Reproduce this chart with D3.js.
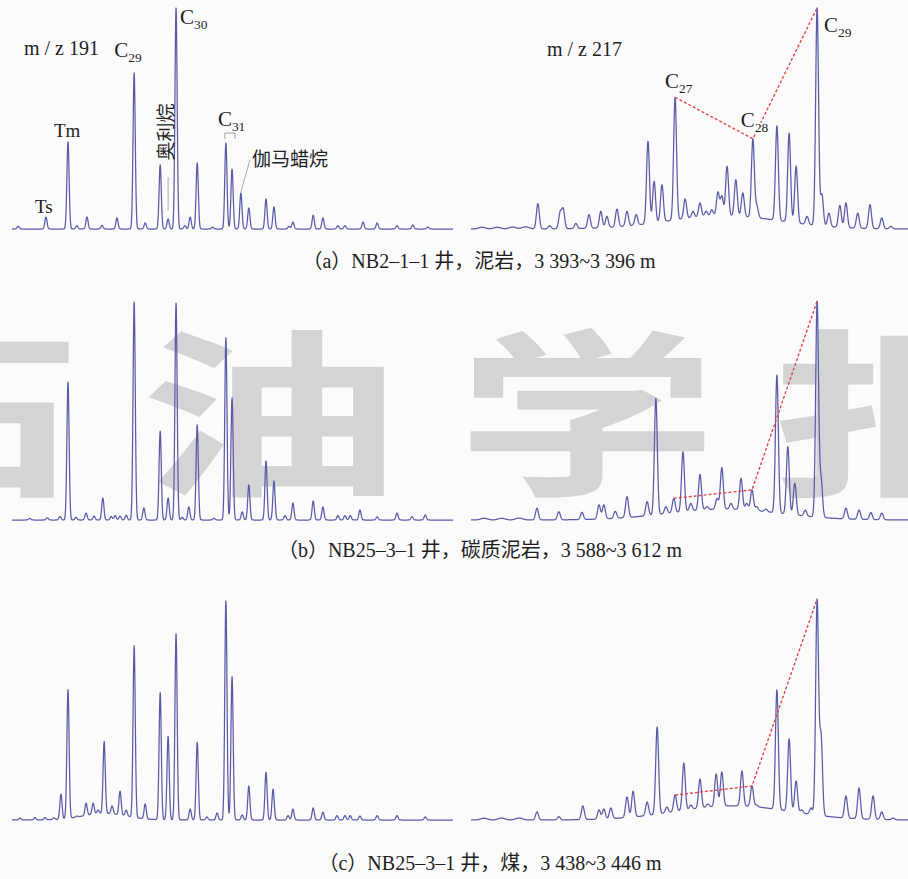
<!DOCTYPE html>
<html>
<head>
<meta charset="utf-8">
<script src="https://cdn.jsdelivr.net/npm/d3@7"></script>
<style>
  body { margin: 0; background: #fbfbfc; }
  svg { display: block; }
  .serif { font-family: "Liberation Serif", "DejaVu Serif", "Noto Sans CJK SC", serif; }
  .cjk { font-family: "Noto Sans CJK SC", sans-serif; }
</style>
</head>
<body>
<svg id="chart" width="908" height="879"></svg>
<script>
// ---- Peak tables: [relative retention (0-100), apex intensity (% of base peak), optional width] ----

// m/z 191 terpanes
const hopaneA = [
  [1.4,1.2],[7.7,5.4],[12.7,39.4],[14.7,1.5],[17.0,5.4],[20.4,1.6],[23.8,5.0],[27.7,70.6],
  [30.2,2.7],[33.6,29.0],[35.4,4.5],[37.2,100],[39.2,1.5],[40.4,5.4],[42.0,29.9],[45.5,0.8],
  [48.5,38.9],[49.9,27.1],[51.9,16.3],[53.7,9.5],[57.6,13.6],[59.4,10.0],[62.8,1.2],[63.7,3.2],
  [68.3,6.3],[70.5,5.0],[73.9,1.5],[75.5,1.5],[79.6,3.2],[82.8,2.7],[87.3,1.5],[90.9,1.8],[94.3,0.9]
];
const hopaneB = [
  [4.0,0.8],[8.0,1.0],[10.9,1.6],[12.7,63.3],[14.5,1.2],[16.8,3.2],[18.6,1.8],[20.6,10.1],[22.5,1.6],
  [23.4,2.0],[24.5,1.8],[25.9,2.2],[27.7,100],[29.9,5.5],[33.6,40.8],[35.4,10.1],[37.2,99.5],
  [38.6,1.2],[40.1,6.0],[42.0,43.6],[45.8,0.8],[48.5,83.5],[49.9,56.0],[52.2,3.7],[53.7,16.1],
  [57.6,27.1],[59.4,17.9],[61.9,2.0],[63.7,7.8],[68.3,8.7],[70.5,6.0],[73.9,2.0],[75.5,2.0],
  [76.7,2.0],[78.9,4.6],[82.8,1.4],[87.3,3.2],[90.7,1.5],[93.7,2.3]
];
const hopaneC = [
  [1.8,0.9],[5.2,1.1],[7.5,1.1],[9.5,1.0],[11.1,11.8],[12.7,59.5],[14.7,1.8],[16.8,7.7],[18.4,7.7],
  [19.5,4.5],[20.9,35.9],[22.7,6.4],[24.5,13.2],[25.9,4.5],[27.7,79.5],[30.2,7.3],[33.6,58.2],
  [35.4,38.2],[37.2,85.0],[40.4,5.0],[42.0,35.5],[44.2,1.4],[46.5,3.2],[48.5,100],[49.9,65.5],
  [52.2,2.3],[53.7,15.5],[57.6,21.8],[59.2,14.1],[62.6,2.0],[63.7,5.0],[68.3,5.5],[70.5,3.6],
  [73.7,2.0],[75.5,2.0],[76.7,2.0],[78.9,1.8],[82.8,2.0],[87.3,2.0],[93.7,1.4]
];

// m/z 217 steranes
const steraneA = [
  [2.5,0.8,0.8],[6.0,0.8,0.8],[9.5,0.9,0.8],[12.5,1.0,0.8],[15.3,11.5],[18.0,1.5],[20.4,7.2],
  [21.1,8.7],[24.0,2.5],[27.0,6.5],[29.7,8.0],[31.1,5.7],[33.4,9.0],[35.7,8.0],[37.8,6.5],
  [40.5,39.7],[41.9,21.6],[43.7,20.0],[46.7,59.6],[49.0,13.6],[50.8,8.0],[52.4,11.8],[53.8,8.0],
  [55.1,8.7],[56.5,16.6],[57.4,14.8],[58.6,28.4],[60.6,22.3],[62.2,16.3],[64.5,40.7],[65.4,10.3],
  [70.0,46.7],[72.8,43.4],[74.4,28.4],[76.9,5.7],[79.2,100],[80.3,15.5],[81.9,7.2],[84.4,10.7],
  [85.8,11.8],[88.5,7.2],[91.3,11.0],[94.0,5.0],[96.1,1.2]
];
const steraneB = [
  [3.0,0.8,0.8],[7.0,0.8,0.8],[11.0,0.9,0.8],[15.1,5.4],[20.1,3.8],[25.4,3.5],[29.3,6.9],[30.4,6.9],
  [33.0,4.0],[35.7,10.7],[40.3,8.4],[42.3,55.8],[44.6,6.1],[46.4,9.9],[48.5,31.3],[50.3,7.6],
  [52.4,20.9],[54.0,6.1],[56.3,9.9],[57.4,24.0],[59.5,7.6],[61.8,19.1],[63.1,7.6],[64.3,13.8],
  [65.4,6.1],[67.5,5.0],[70.0,66.5],[72.5,33.6],[74.1,16.8],[76.5,4.5],[79.2,100],[80.1,18.3],
  [85.8,5.4],[88.8,4.6],[91.5,3.4],[94.0,3.1]
];
const steraneC = [
  [3.0,0.8,0.8],[7.0,0.9,0.8],[11.0,0.9,0.8],[15.1,3.7],[20.1,1.5],[25.6,6.4],[29.3,4.6],[30.4,5.0],
  [32.0,5.5],[35.7,10.5],[37.1,13.2],[40.3,8.2],[42.6,42.5],[44.8,5.9],[46.7,11.4],[48.7,26.0],
  [50.3,6.8],[52.4,18.7],[54.2,7.3],[56.1,21.0],[57.4,21.9],[59.0,6.4],[62.0,22.4],[64.3,15.5],
  [65.4,6.8],[66.6,5.0],[68.2,4.6],[70.0,59.4],[72.8,37.0],[74.4,17.8],[75.7,4.6],[77.8,5.5],
  [79.2,100],[80.1,37.9],[85.8,11.0],[88.8,14.6],[92.0,11.0],[94.0,3.7],[96.6,0.9]
];

// unresolved hump under each trace: [height, centre, spread]
const humpHopane = [null, null, [3, 21, 5]];
const humpSterane = [[6, 58, 13], [5, 58, 13], [6.5, 60, 13]];

// C27 / C28 / C29 regular sterane retention per sample
const steraneMarkers = [[46.7, 64.5, 79.2], [46.4, 64.3, 79.2], [46.7, 64.3, 79.2]];
const steraneMarkerNames = ["27", "28", "29"];

// named terpane peaks in sample (a)
const hopaneLabelNames = ["Ts", "Tm", "C29", "C30", "C31"];
const hopaneLabelRt = [7.7, 12.7, 27.7, 37.2, 48.5];
const oleananeRt = 35.4;
const gammaceraneRt = 51.9;

const captions = [
  "（a）NB2–1–1 井，泥岩，3 393~3 396 m",
  "（b）NB25–3–1 井，碳质泥岩，3 588~3 612 m",
  "（c）NB25–3–1 井，煤，3 438~3 446 m"
];
const watermark = "石油学报";

// ---- layout ----
const W = 908, H = 879;
const colRange = [[12, 453], [471, 908]];
const rowRange = [[229, 8], [520, 302], [820, 601]];
const captionPos = [[479, 268], [480, 557], [490, 870]];
const traceColor = "#5a5aa8";
const ink = "#1e1e1e";

const svg = d3.select("#chart");
svg.append("rect").attr("width", W).attr("height", H).attr("fill", "#fbfbfc");

// watermark behind the traces
const wm = svg.append("g")
  .attr("class", "cjk")
  .attr("fill", "#d4d4d4")
  .attr("font-weight", 700)
  .attr("font-size", 180);
Array.from(watermark).forEach((ch, i) => {
  wm.append("text")
    .attr("transform", `translate(${-47 + i * 317},404) scale(1.45,1)`)
    .attr("text-anchor", "middle")
    .attr("dominant-baseline", "central")
    .text(ch);
});

function makeTrace(peaks, sigma, hump) {
  const humpAt = t => hump ? hump[0] * Math.exp(-((t - hump[1]) ** 2) / (2 * hump[2] ** 2)) : 0;
  const comps = peaks.map(p => ({ t: p[0], s: p[2] || sigma, a: Math.max(0, p[1] - humpAt(p[0])) }));
  return t => humpAt(t) + d3.sum(comps, c => c.a * Math.exp(-((t - c.t) ** 2) / (2 * c.s * c.s)));
}

const samples = d3.range(0, 100.0001, 0.05);
const hopanes = [hopaneA, hopaneB, hopaneC];
const steranes = [steraneA, steraneB, steraneC];

const panels = [];
for (let r = 0; r < 3; r++) {
  for (let c = 0; c < 2; c++) {
    const x = d3.scaleLinear().domain([0, 100]).range(colRange[c]);
    const y = d3.scaleLinear().domain([0, 100]).range(rowRange[r]);
    const f = c === 0
      ? makeTrace(hopanes[r], 0.25, humpHopane[r])
      : makeTrace(steranes[r], 0.33, humpSterane[r]);
    panels.push({ r, c, x, y, f });
  }
}

// chromatogram traces
panels.forEach(p => {
  const line = d3.line().x(t => p.x(t)).y(t => p.y(p.f(t)));
  svg.append("path")
    .attr("d", line(samples))
    .attr("fill", "none")
    .attr("stroke", traceColor)
    .attr("stroke-width", 1.25)
    .attr("stroke-linejoin", "round");
});

// sterane C27-C28-C29 dashed connectors
panels.filter(p => p.c === 1).forEach(p => {
  const pts = steraneMarkers[p.r].map(t => [p.x(t), p.y(p.f(t))]);
  svg.append("path")
    .attr("d", d3.line()(pts))
    .attr("fill", "none")
    .attr("stroke", "#e04848")
    .attr("stroke-width", 1.4)
    .attr("stroke-dasharray", "3,2");
});

// labels for sample (a)
const pa = panels[0], pb = panels[1];
const labels = svg.append("g").attr("class", "serif").attr("fill", ink);

function subLabel(g, x, y, main, sub, size) {
  const t = g.append("text").attr("x", x).attr("y", y).attr("font-size", size);
  t.append("tspan").text(main);
  if (sub) t.append("tspan").attr("font-size", size * 0.64).attr("dy", 5).text(sub);
  return t;
}

labels.append("text").attr("x", 24).attr("y", 55).attr("font-size", 20).text("m / z 191");
labels.append("text").attr("x", 547).attr("y", 56).attr("font-size", 20).text("m / z 217");

const hopaneOffsets = { Ts: [-11, -4], Tm: [-14, -5], C29: [-20, -16], C30: [4, 16], C31: [-8, -17] };
hopaneLabelNames.forEach((name, i) => {
  const t = hopaneLabelRt[i];
  const px = pa.x(t), py = pa.y(pa.f(t));
  const off = hopaneOffsets[name];
  const isC = name[0] === "C";
  subLabel(labels, px + off[0], py + off[1], isC ? "C" : name, isC ? name.slice(1) : null, isC ? 21 : 19);
});

// C31 22S/22R bracket
{
  const x1 = pa.x(48.5) - 1, x2 = pa.x(49.9) + 3, yt = 133, yb = 139;
  svg.append("path")
    .attr("d", `M${x1},${yb}V${yt}H${x2}V${yb}`)
    .attr("fill", "none").attr("stroke", "#888").attr("stroke-width", 0.8);
}

// oleanane: vertical label with leader
{
  const px = pa.x(oleananeRt), py = pa.y(pa.f(oleananeRt));
  svg.append("line").attr("x1", px).attr("x2", px).attr("y1", py - 9).attr("y2", 177)
    .attr("stroke", "#999").attr("stroke-width", 0.8);
  svg.append("text")
    .attr("class", "cjk")
    .attr("transform", `translate(${px - 4},132) rotate(-90)`)
    .attr("text-anchor", "middle")
    .attr("dominant-baseline", "central")
    .attr("font-size", 19)
    .attr("fill", ink)
    .text("奥利烷");
}

// gammacerane label with leader
{
  const px = pa.x(gammaceraneRt), py = pa.y(pa.f(gammaceraneRt));
  svg.append("line").attr("x1", px).attr("y1", py - 1).attr("x2", px + 9).attr("y2", 160)
    .attr("stroke", "#999").attr("stroke-width", 0.8);
  svg.append("text")
    .attr("class", "cjk")
    .attr("x", px + 11).attr("y", 166)
    .attr("font-size", 19)
    .attr("fill", ink)
    .text("伽马蜡烷");
}

// sterane labels in sample (a)
const steraneOffsets = [[-10, -9], [-12, -12], [7, 24]];
steraneMarkers[0].forEach((t, i) => {
  const px = pb.x(t), py = pb.y(pb.f(t));
  subLabel(labels, px + steraneOffsets[i][0], py + steraneOffsets[i][1], "C", steraneMarkerNames[i], 21)
    .attr("stroke", "#fbfbfc").attr("stroke-width", 4).attr("paint-order", "stroke");
});

// captions
captions.forEach((txt, i) => {
  svg.append("text")
    .attr("class", "serif")
    .attr("x", captionPos[i][0]).attr("y", captionPos[i][1])
    .attr("text-anchor", "middle")
    .attr("font-size", 20)
    .attr("fill", ink)
    .text(txt);
});
</script>
</body>
</html>
